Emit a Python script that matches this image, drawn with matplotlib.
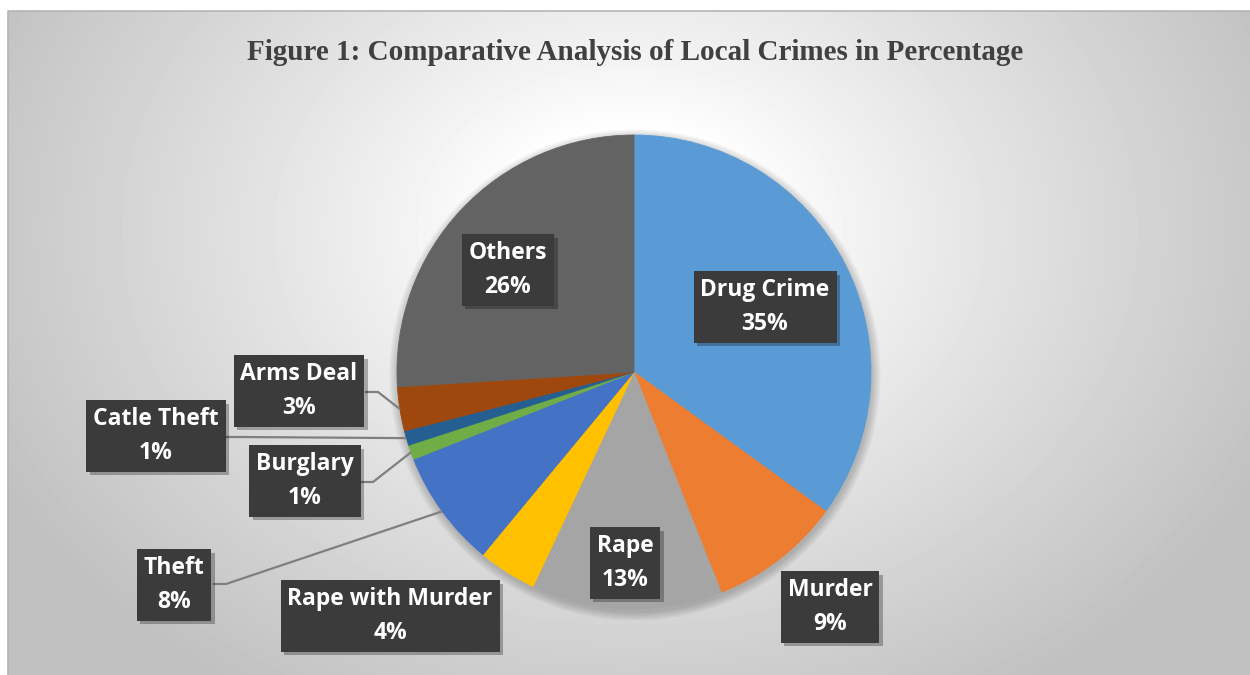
import numpy as np
import matplotlib
matplotlib.use("Agg")
import matplotlib.pyplot as plt
import matplotlib.patheffects as pe

# crime categories and their share in percent (clockwise from 12 o'clock)
crimes = ["Drug Crime", "Murder", "Rape", "Rape with Murder", "Theft",
          "Burglary", "Catle Theft", "Arms Deal", "Others"]
shares = [35, 9, 13, 4, 8, 1, 1, 3, 26]
colors = ["#5B9BD5", "#ED7D31", "#A5A5A5", "#FFC000", "#4472C4",
          "#70AD47", "#255E91", "#9E480E", "#636363"]

W, H = 1250, 675
CX, CY, R = 634, 372, 237     # pie centre / radius in pixels (from top-left)

# label box centres (pixels, from top-left)
label_pos = {
    "Drug Crime": (765, 307),
    "Murder": (830, 607),
    "Rape": (625, 563),
    "Rape with Murder": (390, 616),
    "Theft": (174, 585),
    "Burglary": (305, 481),
    "Catle Theft": (156, 436),
    "Arms Deal": (299, 391),
    "Others": (508, 270),
}
# where the leader line leaves the box (right edge), for outside labels
leader_start = {
    "Theft": (213, 584),
    "Burglary": (360, 482),
    "Catle Theft": (226, 437),
    "Arms Deal": (365, 392),
}


def px(x, y):
    # pixel coords (y down) -> axes data coords (y up)
    return x, H - y


fig = plt.figure(figsize=(W / 100, H / 100), dpi=100)
ax = fig.add_axes([0, 0, 1, 1])

#######################################################
# radial grey background of the chart area
#######################################################
gx = np.linspace(8, W, 400)
gy = np.linspace(11, H, 220)
XX, YY = np.meshgrid(gx, gy)
rr = np.sqrt(((XX - 630) / 720.0) ** 2 + ((YY - 230) / 560.0) ** 2)
shade = 1 - 0.25 * np.clip((rr - 0.18) / 0.82, 0, 1) ** 0.9
ax.imshow(shade, cmap="gray", vmin=0, vmax=1, extent=(8, W, 0, H - 11),
          origin="upper", aspect="auto", interpolation="bilinear", zorder=0)
ax.plot([8, 8, W], [0, H - 11, H - 11], color="#b5b5b5", lw=1.2, zorder=1)

#######################################################
# soft shadow under the pie, then the pie itself
#######################################################
for k in range(6):
    ax.add_patch(plt.Circle(px(CX + 1, CY + 3), R + 1 + k * 1.5,
                            color="black", alpha=0.035, lw=0, zorder=1))

wedges, _ = ax.pie(shares, colors=colors, startangle=90, counterclock=False,
                   radius=R, center=px(CX, CY), frame=True,
                   wedgeprops=dict(linewidth=0.6, edgecolor="none"))
for w, c in zip(wedges, colors):
    w.set_edgecolor(c)
    w.set_zorder(2)

#######################################################
# leader lines for the small slices
#######################################################
cum = np.cumsum([0] + shares)
for i, name in enumerate(crimes):
    if name not in leader_start:
        continue
    mid = (cum[i] + shares[i] / 2.0) / 100.0 * 2 * np.pi
    ex = CX + R * np.sin(mid)
    ey = CY - R * np.cos(mid)
    sx, sy = leader_start[name]
    xs = [sx, sx + 13, ex]
    ys = [sy, sy, ey]
    ax.plot(xs, [H - v for v in ys], color="#7f7f7f", lw=1.6, zorder=3,
            solid_capstyle="butt")

#######################################################
# data labels in dark boxes
#######################################################
for name, val in zip(crimes, shares):
    x, y = px(*label_pos[name])
    t = ax.text(x, y, "{}\n{}%".format(name, val), ha="center", va="center",
                color="white", fontsize=16.5, fontweight="bold",
                family=["Open Sans", "DejaVu Sans"], linespacing=1.55,
                zorder=5,
                bbox=dict(boxstyle="square,pad=0.3", facecolor="#3b3b3b",
                          edgecolor="none", linewidth=0))
    t.get_bbox_patch().set_path_effects(
        [pe.withSimplePatchShadow(offset=(2.5, -2.5), shadow_rgbFace="black",
                                  alpha=0.28)])

#######################################################
# title
#######################################################
ax.text(635, H - 52, "Figure 1: Comparative Analysis of Local Crimes in Percentage",
        ha="center", va="center", fontsize=21, fontweight="bold",
        family="Liberation Serif", color="#404040", zorder=5)

ax.set_xlim(0, W)
ax.set_ylim(0, H)
ax.set_aspect("auto")
ax.axis("off")

fig.savefig("out.png", dpi=100, facecolor="white")
